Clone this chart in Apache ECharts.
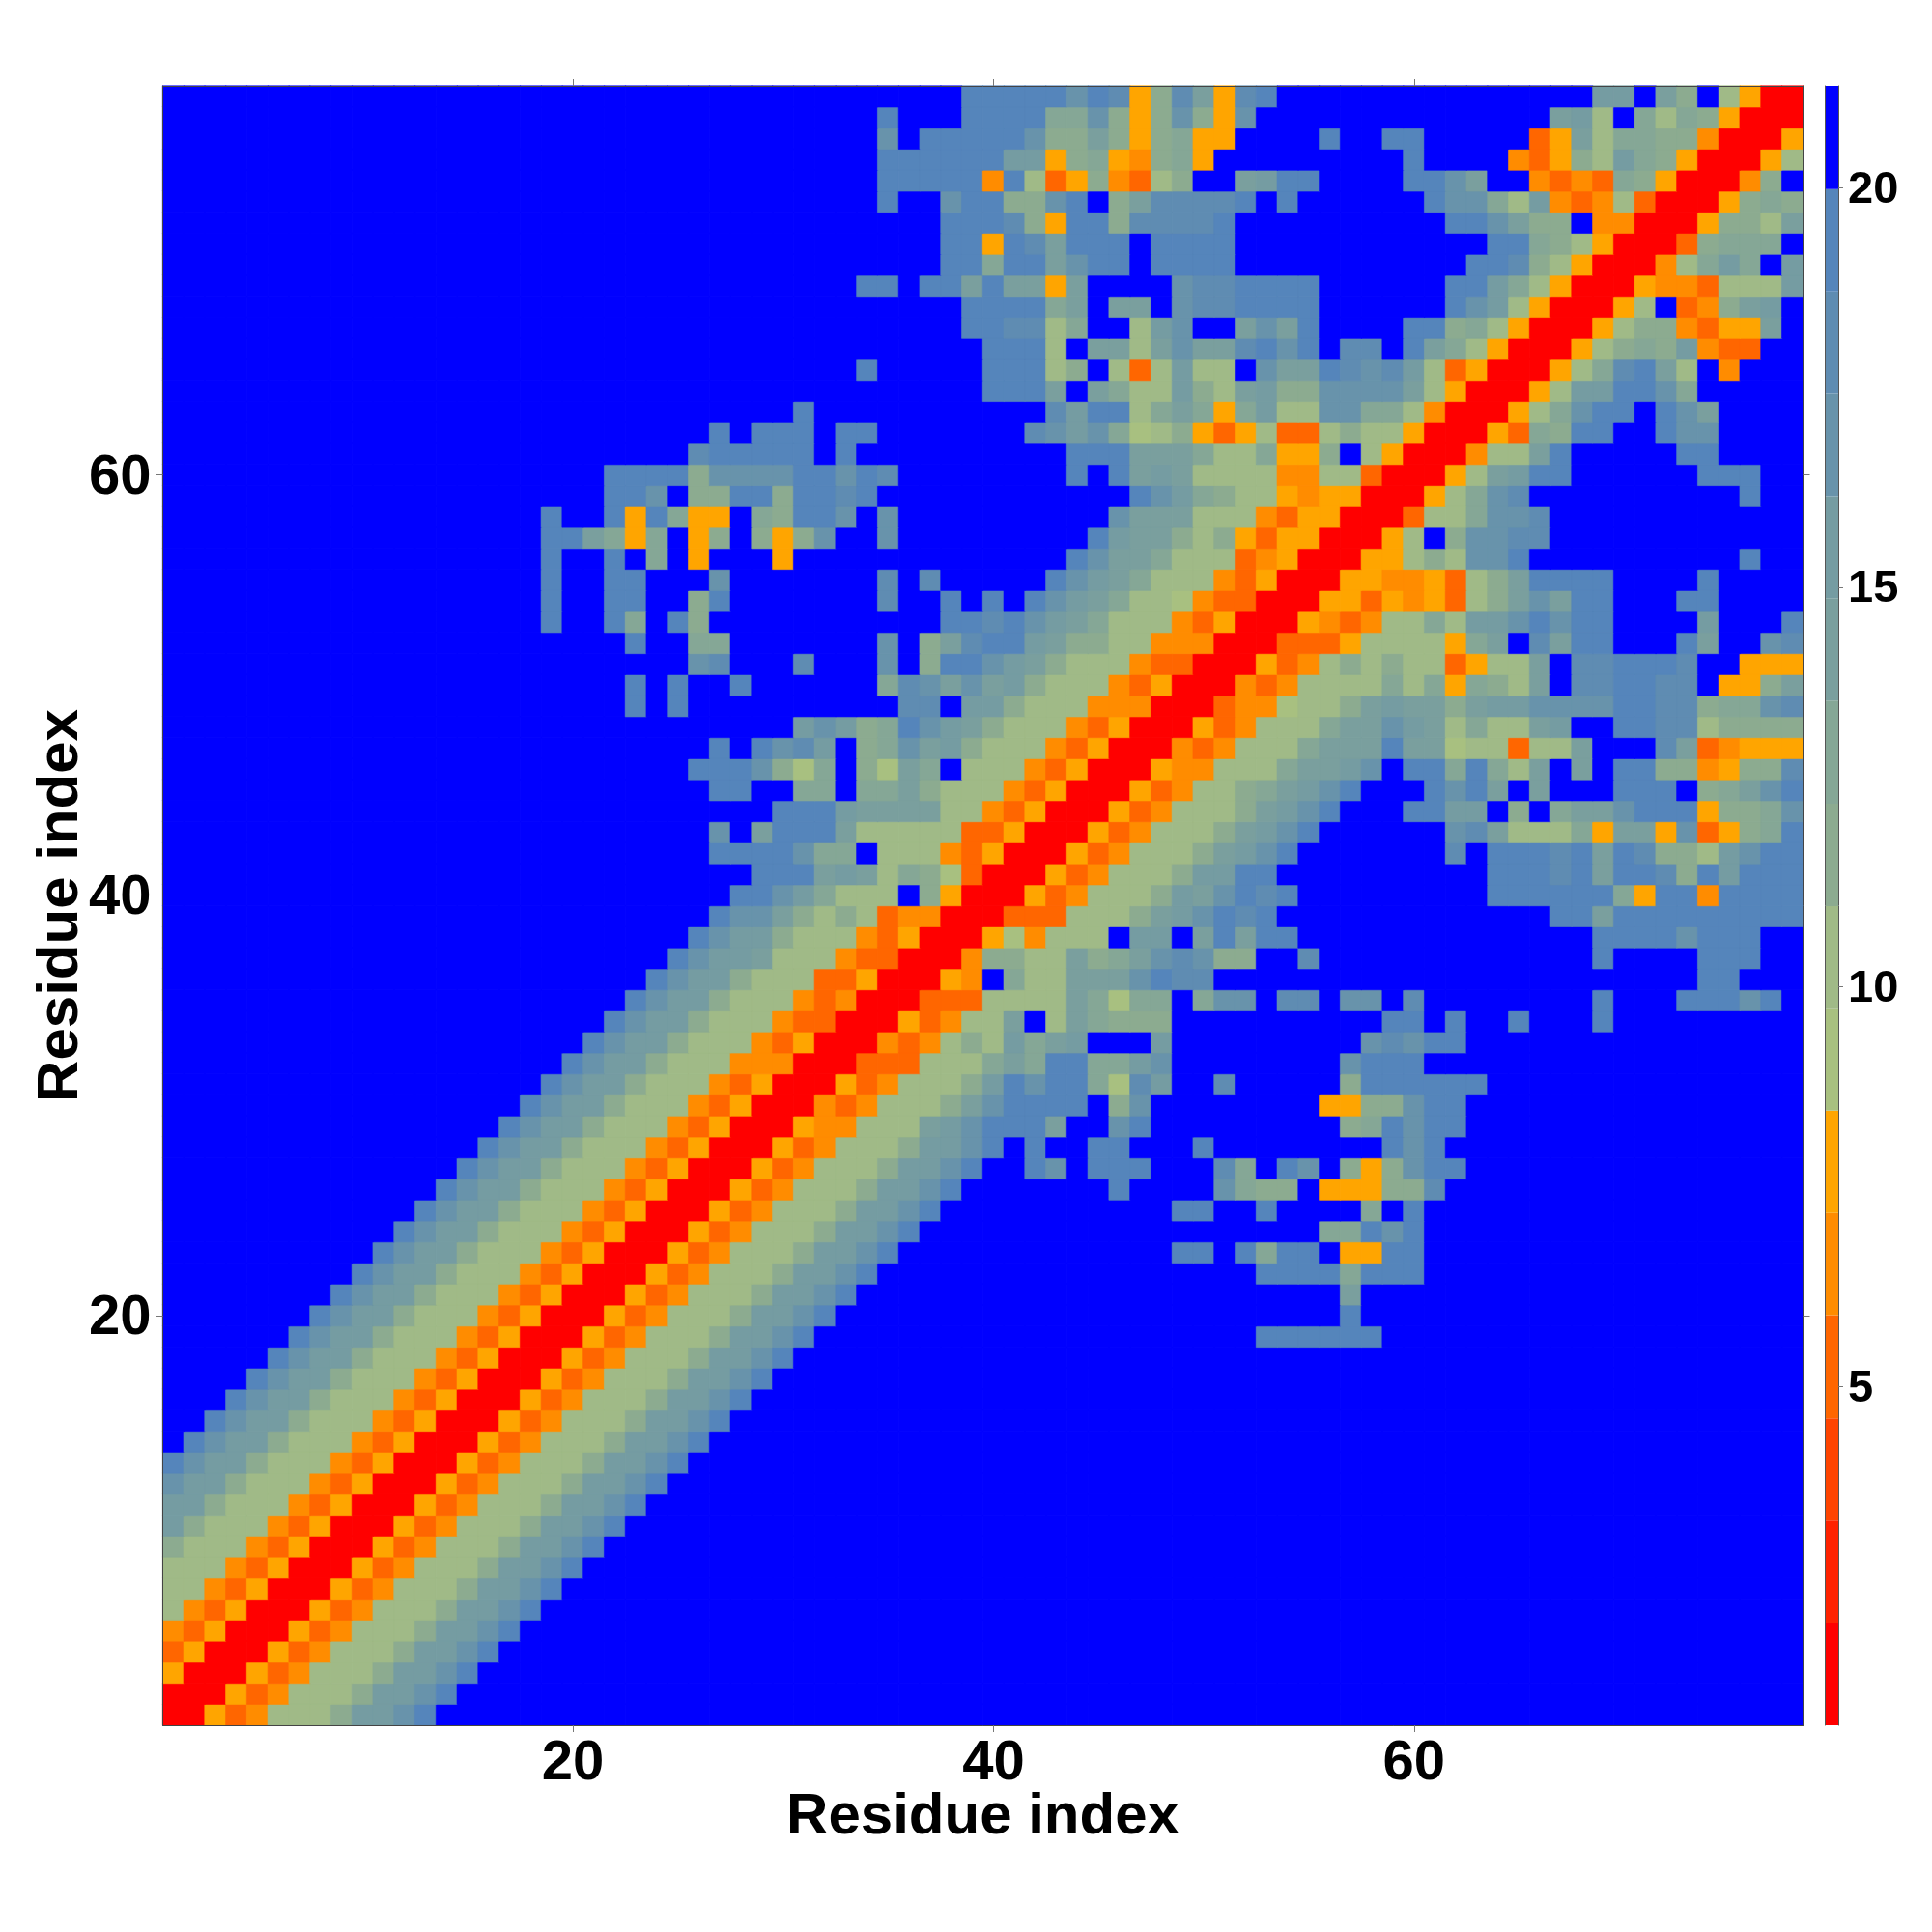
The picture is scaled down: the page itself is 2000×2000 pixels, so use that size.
<!DOCTYPE html>
<html>
<head>
<meta charset="utf-8">
<style>html,body{margin:0;padding:0;background:#fff}#c{width:2000px;height:2000px}</style>
<script src="https://cdn.jsdelivr.net/npm/echarts@6/dist/echarts.min.js"></script>
</head>
<body>
<div id="c"></div>
<script>
// Residue count on both axes
const residues = Array.from({length: 78}, (_, i) => String(i + 1));
// Colour band edges, one band per colour of the scale
const bandEdges = [0.76,2.04,3.32,4.6,5.89,7.17,8.45,9.73,11.01,12.29,13.58,14.86,16.14,17.42,18.7,19.98,21.27];
const bandColors = ['#ff0000','#ff2200','#ff4400','#ff6600','#ff8c00','#ffa500','#a8c080','#a0ba87','#8cab90','#85a796','#7a9f9e','#759ca2','#6893ab','#5f8cb2','#5585bb','#0000ff'];
const colorbarTicks = [5,10,15,20];
// Symmetric distance map: rows[y-1] holds the band (hex digit) of cells x = y, y+1, ...; blue past the end.
const rows = [
"00 534 777 8 bb c e","00 534 777 8 bb c e","00 534 777 8 bb c e","00 534 777 8 bb c e","00 534 777 8 bb c e","00 534 777 8 bb c e",
"00 534 777 8 bb c e","00 534 777 8 bb c e","00 534 777 8 bb c e","00 534 777 8 bb c e","00 534 777 8 bb c e","00 534 777 8 bb c e",
"00 534 777 8 bb c e","00 534 777 8 bb c e","00 534 777 8 bb c e","00 534 777 8 bb c e","00 534 777 8 bb c e","00 534 777 8 bb c e",
/*19*/"00 534 777 8 bb c e fffffffffffffffffffff eeeeee",
/*20*/"00 534 777 8 bb c e ffffffffffffffffffffffff e",
/*21*/"00 534 777 8 bb c e fffffffffffffffffffffff a",
/*22*/"00 534 777 8 bb c e ffffffffffffffffff eeee 9 eee",
/*23*/"00 534 777 8 bb c e fffffffffffff ee f e 9 ee f 55 ee",
/*24*/"00 534 777 8 bb c e fffffffffffffffffff 99 e c e",
/*25*/"00 534 777 8 bb c e fffffffffff ee ff e ffff 9 f e",
/*26*/"00 534 777 8 bb c e fffffff e ffff c 9 88 f 555 88 d",
/*27*/"00 534 777 8 bb c e ff e c f eee fff d 9 f e c f 8 5 8 c ee",
/*28*/"00 534 777 8 bb c e f e ff ee fff e ffffffff e c e",
/*29*/"00 5 44 777 a b c eee a ff c e fffffffff 8 9 e c ee",
/*30*/"00 434 777 8 a c eeee f 8 c ffffffff 55 88 c ee",
/*31*/"00 534 777 8 b e c ee 9 6 d b ff d fffff 8 eeeeee",
/*32*/"00 333 777 9a9 ee 99 bc ffffffff c eee",
/*33*/"00 434 7 8 7 b 9 a b fff b fffffffff cdc ee",
/*34*/"00 534 77 a f 7 a 9 888 ffffffffff ee f e ff e fff e",
/*35*/"00 333 7777 a9 6 99 f 9 cc f dd f cc f d ffffffff e fff eee c e f",
/*36*/"00 5 4 f 9 77 aaa c edd fffffffffffffffffffffff ee",
/*37*/"00 4 88 77 a 8 9 a c d c 88 ff d fffffffffffff e ffff eee",
/*38*/"00 5 6 4 777 f bb f a e a ee ffffffffffffff eeee c eee",
/*39*/"00 333 777 8 a b c e d e fffffffffffff ee a eeeeeeeee",
/*40*/"00 534 777 8 b a c e d e fffffffff eeeeee 9 5 ee 4 eeee",
/*41*/"00 534 777 8 bb ee ffffffffff eee d e a ee d 8 e b eee",
/*42*/"00 534 777 8 ab c e fffffff d f eee d e a e d 88 7 b c ee",
/*43*/"00 534 777 8 ab c e ffffff c d a 777 9 5 aa 5 c 3 5 8 9 e",
/*44*/"00 534 777 8 a b c e fff ee bb f 8 f 9 aa c eee 5 88 9 c",
/*45*/"00 534 77 89 ab c e fff e c e a f a fff eee f 8 9 a c e",
/*46*/"00 5 44 777 9 aa b c f ee 9 e 9 7 a f a f ee 88 4 5 88 d",
/*47*/"00 434 777 9 aaa e aa 6 77 3 77 a fff d a 3 4 555",
/*48*/"00 534 777 9 aa c b a 7 9 77 a b ff ee dd 7 8888",
/*49*/"00 3 44 6 77 8 a b aa 8 a b b c ccc ee dd 8 99 c d",
/*50*/"00 434 7777 9 7 9 5 9 8 7 a f dd ee dd f 55 8 a",
/*51*/"00 5 3 4 7 8 7 8 77 3 5 77 a f dd eeed ff 555",
/*52*/"00 333 5 7777 5 9 a f d a ee fff e a ff c d",
/*53*/"00 5434 77 9 7 bbc e c ee ffff b fff e",
/*54*/"00 553545378aca ee fff ee",
/*55*/"00 55445378a eeee ffff e",
/*56*/"00 55787cce ffffffffff e",
/*57*/"00 57f8ccdd",
/*58*/"00 3779ccd",
/*59*/"00 579cd ffffffffff e",
/*60*/"00 57abee ffffff eee",
/*61*/"00 477ae fffff ee",
/*62*/"00 5398ee ff e cc",
/*63*/"00 579cee f e c a",
/*64*/"00 57bbeec9",
/*65*/"00 579dea7f4",
/*66*/"00 57898b433",
/*67*/"00 5788435 5a",
/*68*/"00 57f348ab",
/*69*/"00 5443777b",
/*70*/"00 479b9fb",
/*71*/"00 38999",
/*72*/"00 5887a",
/*73*/"00 5898",
/*74*/"00 48",
/*75*/"00 57",
/*76*/"00 5",
/*77*/"00",
/*78*/"0"
];

const bandMid = bandEdges.slice(0, -1).map((e, i) => (e + bandEdges[i + 1]) / 2);
const cells = [];
const n = residues.length;
const matrix = residues.map(() => new Array(n).fill(15));
rows.forEach((s, yi) => {
  s.replace(/\s/g, '').split('').forEach((ch, k) => {
    const xi = yi + k;
    if (xi < n) { matrix[yi][xi] = parseInt(ch, 16); matrix[xi][yi] = parseInt(ch, 16); }
  });
});
for (let y = 0; y < n; y++) for (let x = 0; x < n; x++) {
  const b = matrix[y][x];
  cells.push({value: [x, y, bandMid[b]], itemStyle: {color: bandColors[b], borderColor: bandColors[b], borderWidth: 0.6}});
}

const everyTwenty = (i, v) => Number(v) % 20 === 0;
const lineStyle = {color: '#444', width: 1};
const tick = {show: true, alignWithLabel: true, length: 7, interval: everyTwenty, lineStyle: {color: '#777', width: 1}};
const font = 'Liberation Sans';
const shiftedLabel = (size, top) => ({
  formatter: '{a|{value}}',
  rich: {a: {fontFamily: font, fontWeight: 'bold', fontSize: size, color: '#000', padding: [top, 0, 0, 0]}}
});

function catAxis(position, gridIndex, labelled, title, margin) {
  return {
    type: 'category', data: residues, position, gridIndex, boundaryGap: true, z: 5,
    axisLine: {show: true, onZero: false, lineStyle},
    axisTick: tick,
    axisLabel: labelled ? {show: true, interval: everyTwenty, fontFamily: font, fontWeight: 'bold', fontSize: 58, color: '#000', margin, hideOverlap: false} : {show: false},
    splitLine: {show: false},
    name: title || '', nameLocation: 'middle', nameMoveOverlap: false,
    nameTextStyle: {fontFamily: font, fontWeight: 'bold', fontSize: 60, color: '#000'},
  };
}

const xBottom = catAxis('bottom', 0, true, 'Residue index', 11); xBottom.nameGap = 65;
const yLeft = catAxis('left', 0, true, 'Residue index', 12); yLeft.nameGap = 75;
Object.assign(yLeft.axisLabel, shiftedLabel(58, 7));
const xTop = catAxis('top', 0, false);
const yRight = catAxis('right', 0, false);

const chart = echarts.init(document.getElementById('c'), null, {renderer: 'canvas', devicePixelRatio: 1});
chart.setOption({
  animation: false,
  backgroundColor: '#fff',
  grid: [
    {left: 168.5, top: 89, width: 1698, height: 1697, containLabel: false, outerBoundsMode: 'none'},
    {left: 1889.5, top: 89, width: 13.5, height: 1697, containLabel: false, outerBoundsMode: 'none'}
  ],
  xAxis: [xBottom, xTop, {type: 'value', gridIndex: 1, min: 0, max: 1, show: false}],
  yAxis: [yLeft, yRight, {
    type: 'value', gridIndex: 1, position: 'right', min: bandEdges[0], max: bandEdges[bandEdges.length - 1], z: 5,
    axisLine: {show: true, onZero: false, lineStyle: {color: '#555', width: 1}},
    axisTick: {show: true, length: 5, customValues: colorbarTicks, lineStyle: {color: '#777'}},
    axisLabel: Object.assign({show: true, customValues: colorbarTicks, margin: 10}, shiftedLabel(47, 5)),
    splitLine: {show: false}
  }, {
    type: 'value', gridIndex: 1, position: 'left', min: bandEdges[0], max: bandEdges[bandEdges.length - 1], z: 5,
    axisLine: {show: true, onZero: false, lineStyle: {color: '#555', width: 1}},
    axisTick: {show: false}, axisLabel: {show: false}, splitLine: {show: false}
  }],
  series: [
    {
      type: 'heatmap', xAxisIndex: 0, yAxisIndex: 0, data: cells, progressive: 0, z: 1,
      emphasis: {disabled: true}, silent: true
    },
    {
      type: 'custom', xAxisIndex: 2, yAxisIndex: 2, silent: true, clip: false, z: 1,
      data: bandColors.map((c, i) => [bandEdges[i], bandEdges[i + 1], i]),
      encode: {y: [0, 1]},
      renderItem: (params, api) => {
        const a = api.coord([0, api.value(0)]);
        const b = api.coord([1, api.value(1)]);
        return {type: 'rect', shape: {x: a[0], y: b[1], width: b[0] - a[0], height: a[1] - b[1]},
                style: {fill: bandColors[api.value(2)]}};
      }
    }
  ]
});
</script>
</body>
</html>
